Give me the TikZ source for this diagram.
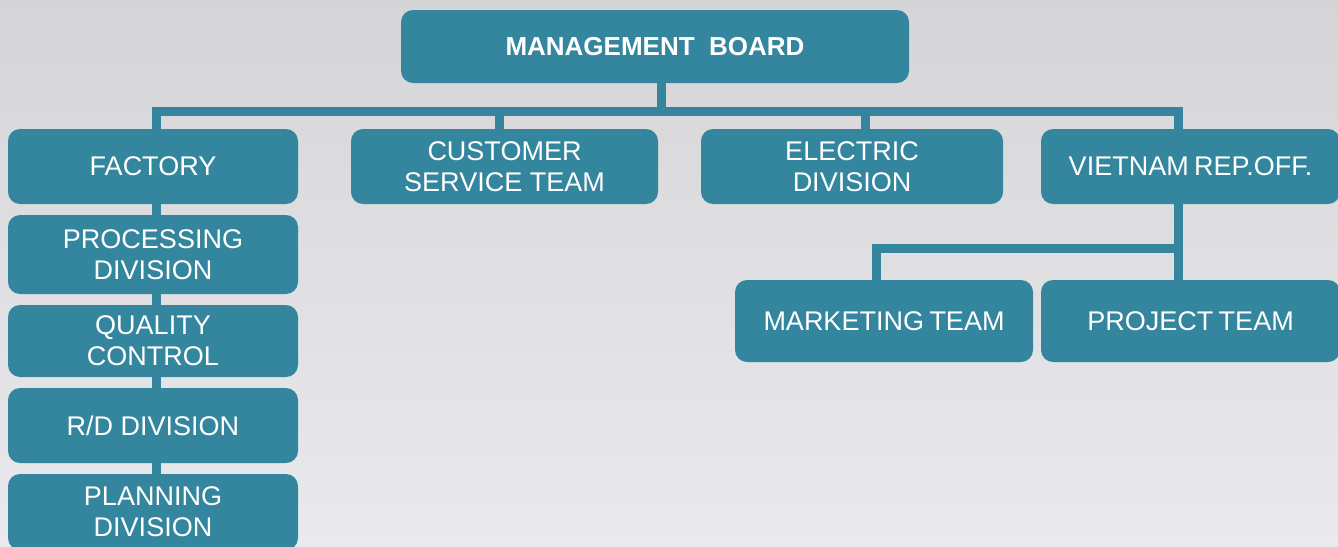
\documentclass[tikz,border=0pt]{standalone}
\usepackage{fontspec}
\setmainfont{Liberation Sans}
\definecolor{teal1}{RGB}{51,134,157}
\definecolor{bgA}{RGB}{213,213,216}
\definecolor{bgB}{RGB}{234,234,238}
\tikzset{
  box/.style={rectangle, rounded corners=12pt, fill=teal1, text=white, align=center,
    inner sep=0pt, font=\fontsize{27}{31}\selectfont},
  conn/.style={draw=teal1, line width=9pt, line join=miter}
}
\begin{document}
\begin{tikzpicture}[x=1pt,y=-1pt]
\shade[left color=bgA, right color=bgB, shading angle=0] (0,0) rectangle (1338,546);
\shade[top color=bgA, bottom color=bgB, opacity=0.5] (0,0) rectangle (1338,546);
\useasboundingbox (0,0) rectangle (1338,546);

\node[box, minimum width=508pt, minimum height=73pt, font=\fontsize{26}{31}\selectfont\bfseries] (mb) at (655,46.5) {MANAGEMENT\ \ BOARD};
\node[box, minimum width=290pt, minimum height=75pt] (fac) at (153,166.5) {FACTORY};
\node[box, minimum width=307pt, minimum height=75pt] (cus) at (504.5,166.5) {CUSTOMER\\SERVICE TEAM};
\node[box, minimum width=302pt, minimum height=75pt] (ele) at (852,166.5) {ELECTRIC\\DIVISION};
\node[box, minimum width=299pt, minimum height=75pt] (vie) at (1190.5,166.5) {VIETNAM\hspace{-2pt} REP.OFF.};
\node[box, minimum width=290pt, minimum height=79pt] (pro) at (153,254.5) {PROCESSING\\DIVISION};
\node[box, minimum width=290pt, minimum height=72pt] (qc) at (153,341) {QUALITY\\CONTROL};
\node[box, minimum width=290pt, minimum height=75pt] (rd) at (153,425.5) {R/D DIVISION};
\node[box, minimum width=290pt, minimum height=76pt] (pla) at (153,512) {PLANNING\\DIVISION};
\node[box, minimum width=298pt, minimum height=82pt] (mkt) at (884,321) {MARKETING\hspace{-2pt} TEAM};
\node[box, minimum width=299pt, minimum height=82pt] (prj) at (1190.5,321) {PROJECT\hspace{-2pt} TEAM};

\coordinate (jM) at (661,111);
\coordinate (jF) at (156,111);
\coordinate (jC) at (499,111);
\coordinate (jE) at (865,111);
\coordinate (jV) at (1178,111);
\coordinate (jS) at (1178,248);
\coordinate (jK) at (876,248);

\draw[conn] (jF |- fac.north) -- (jF) -- (jV) -- (jV |- vie.north);
\draw[conn] (jM |- mb.south) -- (jM);
\draw[conn] (jC) -- (jC |- cus.north);
\draw[conn] (jE) -- (jE |- ele.north);
\draw[conn] (jF |- fac.south) -- (jF |- pro.north);
\draw[conn] (jF |- pro.south) -- (jF |- qc.north);
\draw[conn] (jF |- qc.south) -- (jF |- rd.north);
\draw[conn] (jF |- rd.south) -- (jF |- pla.north);
\draw[conn] (jS |- vie.south) -- (jS |- prj.north);
\draw[conn] (jK |- mkt.north) -- (jK) -- (jS);
\end{tikzpicture}
\end{document}
